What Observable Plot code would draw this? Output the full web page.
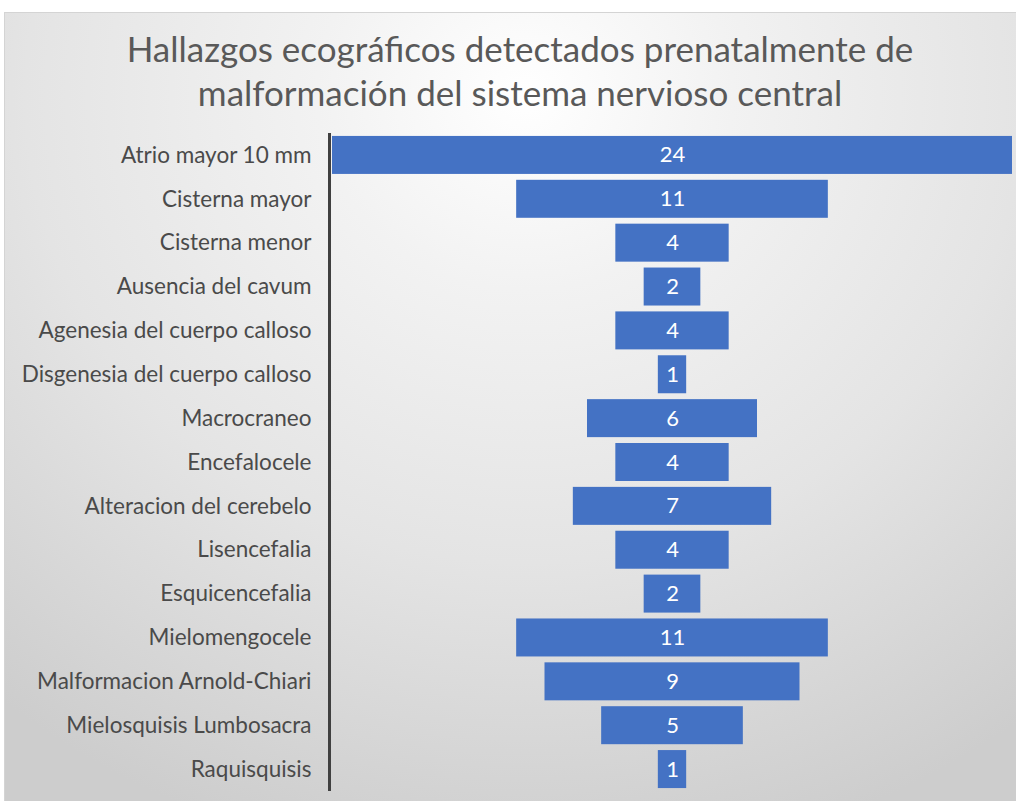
<!DOCTYPE html>
<html>
<head>
<meta charset="utf-8">
<script src="https://cdn.jsdelivr.net/npm/d3@7"></script>
<script src="https://cdn.jsdelivr.net/npm/@observablehq/plot@0.6"></script>
<style>
  html, body { margin: 0; padding: 0; background: #fff; }
  #frame {
    position: absolute; left: 4px; top: 12px; width: 1040px; height: 820px;
    border: 1px solid #d4d4d4;
    background: radial-gradient(ellipse 80% 95% at 50% 10%, #ffffff 0%, #f2f2f2 25%, #e4e4e4 60%, #cdcdcd 100%);
  }
  #wrap { position: absolute; left: 0; top: 0; width: 1016px; }
  #title {
    height: 133px; box-sizing: border-box; padding-top: 26px; padding-left: 24px;
    text-align: center; font-family: Lato, "Open Sans", sans-serif; font-size: 35px;
    line-height: 44px; color: #595959;
  }
  svg { display: block; background: transparent; }
</style>
</head>
<body>
<div id="frame"></div>
<div id="wrap">
  <div id="title">Hallazgos ecográficos detectados prenatalmente de<br>malformación del sistema nervioso central</div>
  <div id="chart"></div>
</div>
<script>
const categories = [
  "Atrio mayor 10 mm",
  "Cisterna mayor",
  "Cisterna menor",
  "Ausencia del cavum",
  "Agenesia del cuerpo calloso",
  "Disgenesia del cuerpo calloso",
  "Macrocraneo",
  "Encefalocele",
  "Alteracion del cerebelo",
  "Lisencefalia",
  "Esquicencefalia",
  "Mielomengocele",
  "Malformacion Arnold-Chiari",
  "Mielosquisis Lumbosacra",
  "Raquisquisis"
];
const values = [24, 11, 4, 2, 4, 1, 6, 4, 7, 4, 2, 11, 9, 5, 1];

const data = categories.map((c, i) => ({category: c, value: values[i]}));

const chart = Plot.plot({
  width: 1016,
  height: 668,
  marginLeft: 332,
  marginRight: 4,
  marginTop: 0,
  marginBottom: 10,
  style: {background: "transparent", fontFamily: "Lato, 'Open Sans', sans-serif"},
  x: {domain: [-12, 12], axis: null},
  y: {domain: categories, paddingInner: 0.134, paddingOuter: 0.067, round: false, label: null},
  marks: [
    Plot.axisY({tickSize: 0, tickPadding: 21, fontSize: 22.5, color: "#4a4a4a", label: null}),
    Plot.barX(data, {y: "category", x1: d => -d.value / 2, x2: d => d.value / 2, fill: "#4472C4"}),
    Plot.text(data, {y: "category", x: 0, text: d => String(d.value), fill: "white", fontSize: 22}),
    Plot.ruleX([-12], {dx: -3, stroke: "#404040", strokeWidth: 3})
  ]
});
document.getElementById("chart").appendChild(chart);
</script>
</body>
</html>
